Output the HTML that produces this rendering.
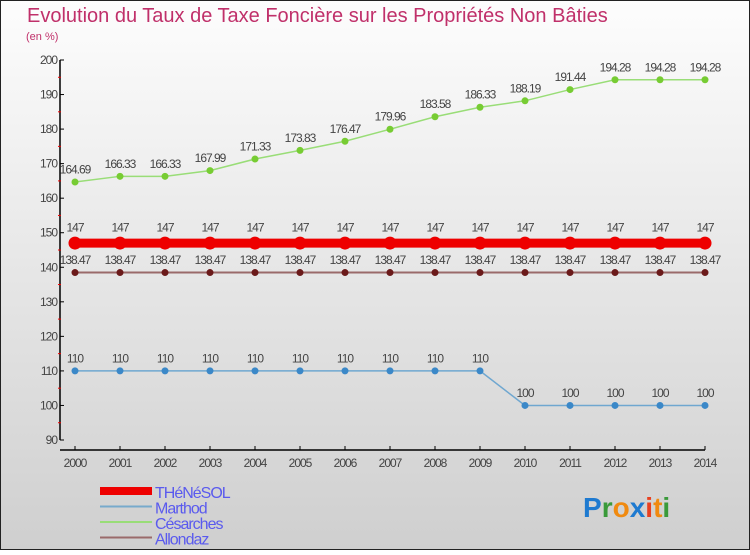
<!DOCTYPE html>
<html><head><meta charset="utf-8"><style>
html,body{margin:0;padding:0;}
body{width:750px;height:550px;overflow:hidden;font-family:"Liberation Sans",sans-serif;}
</style></head><body>
<svg width="750" height="550" xmlns="http://www.w3.org/2000/svg">
<defs><linearGradient id="bg" x1="0" y1="0" x2="0" y2="1"><stop offset="0" stop-color="#fdfdfd"/><stop offset="1" stop-color="#cfcfcf"/></linearGradient></defs>
<rect x="0.5" y="0.5" width="749" height="549" fill="url(#bg)" stroke="#222"/>
<text x="27" y="22" font-size="20" fill="#c0306a">Evolution du Taux de Taxe Foncière sur les Propriétés Non Bâties</text>
<text x="26" y="40" font-size="11" fill="#c0306a">(en %)</text>
<g id="axes"></g>
<g id="series"></g>
<g id="legend"></g>
<text x="583" y="517" font-size="28" font-weight="bold"><tspan fill="#1e7ad0">P</tspan><tspan fill="#3a9a3a">r</tspan><tspan fill="#f08a10">o</tspan><tspan fill="#1e7ad0">x</tspan><tspan fill="#e84020">i</tspan><tspan fill="#f08a10">t</tspan><tspan fill="#3a9a3a">i</tspan></text>
</svg>
<script>
const years=[2000,2001,2002,2003,2004,2005,2006,2007,2008,2009,2010,2011,2012,2013,2014];
const thenesol=[147,147,147,147,147,147,147,147,147,147,147,147,147,147,147];
const marthod=[110,110,110,110,110,110,110,110,110,110,100,100,100,100,100];
const cesarches=[164.69,166.33,166.33,167.99,171.33,173.83,176.47,179.96,183.58,186.33,188.19,191.44,194.28,194.28,194.28];
const allondaz=[138.47,138.47,138.47,138.47,138.47,138.47,138.47,138.47,138.47,138.47,138.47,138.47,138.47,138.47,138.47];
const yTicks=[90,100,110,120,130,140,150,160,170,180,190,200];
const NS="http://www.w3.org/2000/svg";
const X=i=>75+i*45;
const Y=v=>60+(200-v)*380/110;
function mk(t,a,p){const e=document.createElementNS(NS,t);for(const k in a)e.setAttribute(k,a[k]);p.appendChild(e);return e;}
const ax=document.getElementById('axes');
let l=mk('line',{x1:60,y1:60,x2:60,y2:440,stroke:'#000','stroke-width':1.5},ax);


yTicks.forEach(v=>{
 mk('line',{x1:60,y1:Y(v),x2:64,y2:Y(v),stroke:'#000'},ax);
 if(v<200)mk('line',{x1:58,y1:Y(v+5),x2:61,y2:Y(v+5),stroke:'#e00'},ax);
 const t=mk('text',{x:57,y:Y(v)+4,'text-anchor':'end','font-size':12,fill:'#444','letter-spacing':'-1'},ax);
 t.textContent=v;
 
 
});
l=mk('line',{x1:60,y1:450,x2:705,y2:450,stroke:'#000','stroke-width':1.5},ax);


years.forEach((y,i)=>{
 mk('line',{x1:X(i),y1:446,x2:X(i),y2:450,stroke:'#000'},ax);
 const t=mk('text',{x:X(i),y:467,'text-anchor':'middle','font-size':12,fill:'#444','letter-spacing':'-1'},ax);
 t.textContent=y;
 
 
});
const sg=document.getElementById('series');
function series(name,data,col,dot,w,r){
 const g=mk('g',{},sg);
 
 
 mk('polyline',{points:data.map((v,i)=>X(i)+','+Y(v)).join(' '),fill:'none',stroke:col,'stroke-width':w},g);
 data.forEach((v,i)=>{
  const c=mk('circle',{cx:X(i),cy:Y(v),r:r,fill:dot},g);
  
  
  const t=mk('text',{x:X(i),y:Y(v)-(r+5),'text-anchor':'middle','font-size':12,fill:'#444','letter-spacing':'-1'},g);
  t.textContent=v;
  
  
 });
}
series('cesarches',cesarches,'#99dd77','#77cc33',1.5,3.5);
series('marthod',marthod,'#6fa7d0','#3b88c8',1.5,3.5);
series('allondaz',allondaz,'#9a6a6a','#6b1a1a',2,3.5);
series('thenesol',thenesol,'#ee0000','#ee0000',9,6.5);
const lg=document.getElementById('legend');
const leg=[['THéNéSOL','#ee0000',8],['Marthod','#77aacc',2],['Césarches','#99dd77',2],['Allondaz','#9a6a6a',2]];
leg.forEach((d,i)=>{
 const y=491+i*15.5;
 mk('line',{x1:100,y1:y,x2:152,y2:y,stroke:d[1],'stroke-width':d[2]},lg);
 const t=mk('text',{x:155,y:y+7,'font-size':16,fill:'#5a5aee','letter-spacing':'-1'},lg);
 t.textContent=d[0];
 
 
});
</script>
</body></html>
